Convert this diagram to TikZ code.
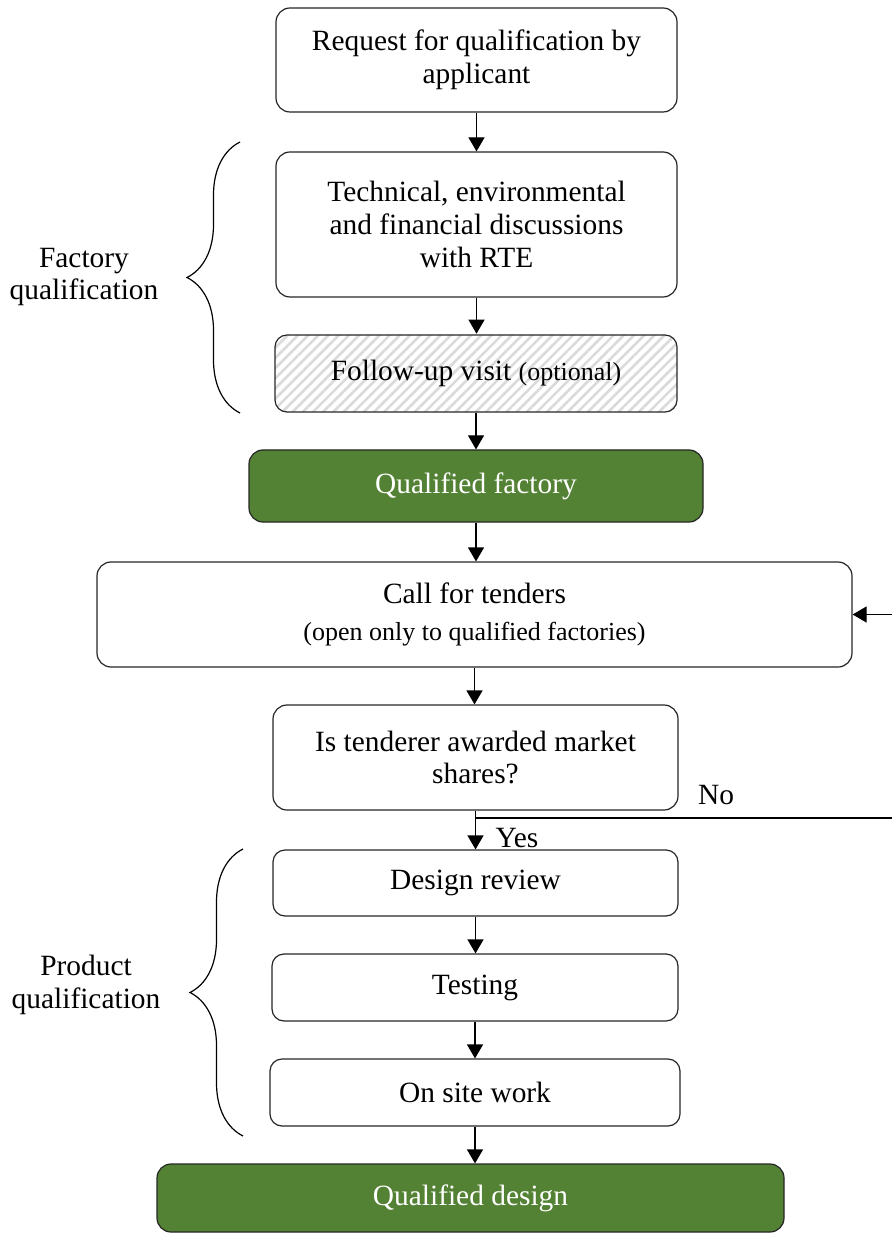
\documentclass[tikz,border=0pt]{standalone}
\usepackage{fontspec}
\setmainfont{Liberation Serif}
\usepackage{tikz}
\usetikzlibrary{
    arrows.meta, positioning, calc,
    patterns.meta, decorations.pathreplacing
}
\definecolor{cGreen}{HTML}{548235}
\definecolor{cHatch}{HTML}{DADADA}
\newcommand{\mainsize}{\fontsize{14.7pt}{16.4pt}\selectfont}
\newcommand{\notesize}{\fontsize{13pt}{15pt}\selectfont}

\tikzset{
    stepbox/.style={draw=black!85, line width=0.6pt, rounded corners=7pt,
        align=center, inner sep=0pt, fill=white},
    smallbox/.style={stepbox, rounded corners=6pt},
    greenbox/.style={stepbox, fill=cGreen, text=white},
    hatchbox/.style={stepbox, rounded corners=6pt,
        pattern={Lines[angle=45, distance=3.6pt, line width=1.3pt]},
        pattern color=cHatch},
    flow/.style={line width=0.6pt, -{Triangle[length=7pt, width=8pt]}},
    sidebrace/.style={decorate, decoration={brace, amplitude=26.5pt},
        line width=0.6pt}
}

\begin{document}
\begin{tikzpicture}[x=0.5pt, y=-0.5pt, font=\mainsize]
    \useasboundingbox (0,0) rectangle (892,1234);

    % factory qualification
    \node[stepbox, minimum width=200.5pt, minimum height=52pt] (request) at (476.5,60)
        {\raisebox{-2pt}{\parbox{200pt}{\centering Request for qualification by\\applicant}}};
    \node[stepbox, minimum width=200.5pt, minimum height=72.5pt] (talks) at (476.5,224.5)
        {Technical, environmental\\and financial discussions\\with RTE};
    \node[hatchbox, minimum width=201pt, minimum height=38.5pt] (visit) at (476,373.5)
        {Follow-up visit {\notesize (optional)}};
    \node[greenbox, minimum width=227pt, minimum height=36pt] (factory) at (476,486)
        {Qualified factory};

    % tendering
    \node[stepbox, minimum width=377.5pt, minimum height=52.5pt] (tenders) at (474.5,614.5)
        {\raisebox{-2pt}{\parbox{370pt}{\centering Call for tenders\\[2pt]{\notesize (open only to qualified factories)}}}};
    \node[stepbox, minimum width=202.5pt, minimum height=52.5pt] (award) at (475.5,757.5)
        {Is tenderer awarded market\\shares?};

    % product qualification
    \node[smallbox, minimum width=202.5pt, minimum height=33pt] (review) at (475.5,883)
        {Design review};
    \node[smallbox, minimum width=203pt, minimum height=33.5pt] (testing) at (475,987.5)
        {Testing};
    \node[smallbox, minimum width=205pt, minimum height=33.5pt] (site) at (475,1092.5)
        {On site work};
    \node[greenbox, minimum width=313.5pt, minimum height=34pt] (design) at (470.5,1198)
        {Qualified design};

    \draw[flow] (request.south) -- (request.south |- talks.north);
    \draw[flow] (talks.south) -- (talks.south |- visit.north);
    \draw[flow] (visit.south) -- (visit.south |- factory.north);
    \draw[flow] (factory.south) -- (factory.south |- tenders.north);
    \draw[flow] (tenders.south) -- (tenders.south |- award.north);
    \draw[flow] (award.south) -- (award.south |- review.north);
    \draw[flow] (review.south) -- (review.south |- testing.north);
    \draw[flow] (testing.south) -- (testing.south |- site.north);
    \draw[flow] (site.south) -- (site.south |- design.north);

    % loop back when no shares are awarded
    \coordinate (loopR) at (894,818);
    \coordinate (split) at (award.south |- loopR);
    \draw[flow] (split) -- (loopR) |- (tenders.east);
    \node (nolbl) at (716,795) {No};
    \node (yeslbl) at (517,838) {Yes};

    % braces
    \draw[sidebrace] (240,413) -- (240,142);
    \node[align=center] (factlbl) at (84,277) {Factory\\qualification};
    \draw[sidebrace] (243,1136) -- (243,849);
    \node[align=center] (prodlbl) at (86,985) {Product\\qualification};
\end{tikzpicture}
\end{document}
